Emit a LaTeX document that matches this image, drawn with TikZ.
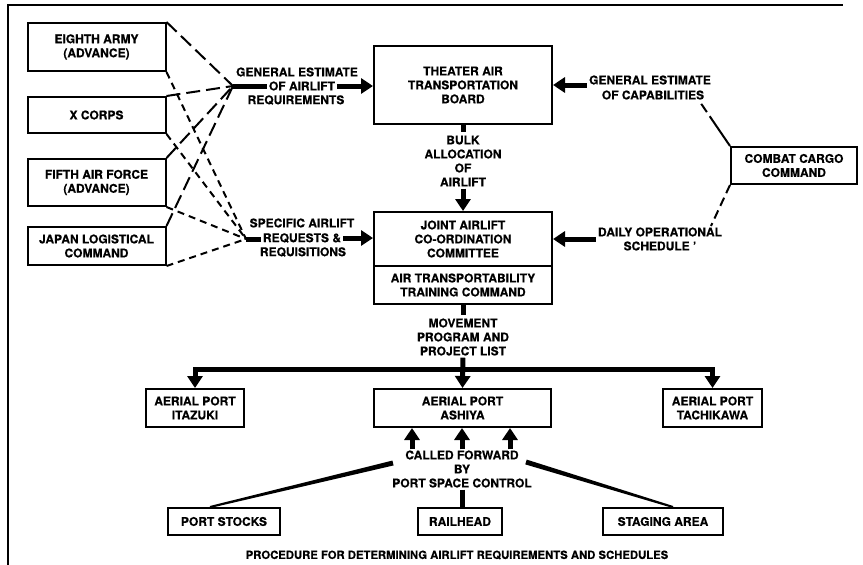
\documentclass[tikz,border=0pt]{standalone}
\usepackage{fontspec}
\setmainfont{TeX Gyre Heros}[BoldFeatures={FakeBold=0.4}]
\usetikzlibrary{arrows.meta,calc}
\newcommand\lblfont{\bfseries\fontsize{12}{14}\selectfont}
\newcommand\capfont{\bfseries\fontsize{11.3}{14}\selectfont}
\begin{document}
\begin{tikzpicture}[x=1pt,y=-1pt,
 box/.style={draw,line width=2pt,inner sep=0pt,align=center,font=\lblfont},
 lbl/.style={align=center,font=\lblfont,inner sep=0pt},
 bar/.style={line width=5pt},
 bigarrow/.style={line width=5pt,-{Triangle[width=15pt,length=12pt]}},
 twoarrow/.style={line width=5pt,{Triangle[width=15pt,length=12pt]}-{Triangle[width=15pt,length=12pt]}},
 longdash/.style={line width=2pt,dash pattern=on 14pt off 6pt},
 shortdash/.style={line width=2pt,dash pattern=on 7pt off 5pt},
]
\useasboundingbox (0,0) rectangle (863,565);
% frame
\coordinate (frTL) at (8,5);
\coordinate (frTR) at (843,5);
\coordinate (frBL) at (8,565);
\draw[line width=2pt] (frBL) -- (frTL) -- (frTR);

% left boxes
\node[box,minimum width=138pt,minimum height=48pt] (eighth) at (96.5,47) {EIGHTH ARMY\\(ADVANCE)};
\node[box,minimum width=138pt,minimum height=36pt] (xcorps) at (96.5,115) {X CORPS};
\node[box,minimum width=138pt,minimum height=47pt] (fifth) at (96.5,182.5) {FIFTH AIR FORCE\\(ADVANCE)};
\node[box,minimum width=138pt,minimum height=38pt] (japan) at (96.5,246) {JAPAN LOGISTICAL\\COMMAND};

% central boxes
\node[box,minimum width=178pt,minimum height=78pt] (tatb) at (463,85) {THEATER AIR\\TRANSPORTATION\\BOARD};
\node[box,minimum width=178pt,minimum height=54pt] (jacc) at (463,239) {JOINT AIRLIFT\\CO-ORDINATION\\COMMITTEE};
\node[box,minimum width=178pt,minimum height=38pt] (attc) at (463,285) {AIR TRANSPORTABILITY\\TRAINING COMMAND};
\node[box,minimum width=126pt,minimum height=37pt] (ccc) at (794,165.5) {COMBAT CARGO\\COMMAND};

% ports
\node[box,minimum width=98pt,minimum height=38pt] (itazuki) at (195,408) {AERIAL PORT\\ITAZUKI};
\node[box,minimum width=177pt,minimum height=38pt] (ashiya) at (462.5,408) {AERIAL PORT\\ASHIYA};
\node[box,minimum width=99pt,minimum height=38pt] (tachikawa) at (712.5,408) {AERIAL PORT\\TACHIKAWA};
\node[box,minimum width=112pt,minimum height=27pt] (portstocks) at (224,521.5) {PORT STOCKS};
\node[box,minimum width=84pt,minimum height=27pt] (railhead) at (460,521.5) {RAILHEAD};
\node[box,minimum width=120pt,minimum height=27pt] (staging) at (663,521.5) {STAGING AREA};

% labels
\node[lbl] (gen1) at (297,72) {GENERAL ESTIMATE};
\node[lbl] (gen2) at (302,86) {OF AIRLIFT};
\node[lbl] (gen3) at (296,100) {REQUIREMENTS};
\node[lbl] (spec1) at (302,223) {SPECIFIC AIRLIFT};
\node[lbl] (spec2) at (302,238) {REQUESTS \&};
\node[lbl] (spec3) at (303,252) {REQUISITIONS};
\node[lbl] (bulk) at (463,161) {BULK\\ALLOCATION\\OF\\AIRLIFT};
\node[lbl] (cap1) at (650,80) {GENERAL ESTIMATE};
\node[lbl] (cap2) at (653,95) {OF CAPABILITIES};
\node[lbl] (daily1) at (660,232) {DAILY OPERATIONAL};
\node[lbl] (daily2) at (660,246) {SCHEDULE '};
\node[lbl] (movement) at (463,337) {MOVEMENT\\PROGRAM AND\\PROJECT LIST};
\node[lbl] (called) at (462,469) {CALLED FORWARD\\BY\\PORT SPACE CONTROL};
\node[lbl,font=\capfont] (caption) at (457,555) {PROCEDURE FOR DETERMINING AIRLIFT REQUIREMENTS AND SCHEDULES};

% junctions
\coordinate (G) at (233,86);
\coordinate (S) at (246,239);

% lines to general estimate
\draw[longdash] (eighth.north east) -- (G);
\draw[longdash] (xcorps.north east) -- (G);
\draw[longdash] (fifth.north east) -- (G);
\draw[longdash] (japan.north east) -- (G);
% lines to specific requests
\draw[shortdash] (eighth.south east) -- (S);
\draw[shortdash] (xcorps.south east) -- (S);
\draw[shortdash] (fifth.south east) -- (S);
\draw[shortdash] (japan.south east) -- (S);

\draw[bar,shorten >=2pt] (G) -- (gen2.west);
\draw[bigarrow,shorten <=2pt] (gen2.east) -- (tatb.west |- gen2.east);
\draw[bar,shorten >=2pt] (S) -- (spec2.west |- S);
\draw[bigarrow,shorten <=2pt] (spec2.east) -- (jacc.west |- spec2.east);

% right side
\draw[bigarrow,shorten <=2pt] (cap1.west |- tatb.east) -- (tatb.east);
\draw[bigarrow,shorten <=2pt] (daily1.west |- jacc.east) -- (jacc.east);
\coordinate (capE) at (700,102);
\coordinate (dailyE) at (711,226);
\draw[line width=2pt,dash pattern=on 36pt off 5pt on 10pt off 5pt] (ccc.north west) -- (capE);
\draw[line width=2pt,dash pattern=on 9pt off 5pt] (ccc.south west) -- (dailyE);

% centre column
\draw[bar,shorten >=3pt] (tatb.south) -- (bulk.north);
\draw[bigarrow,shorten <=2pt] (bulk.south) -- (jacc.north);
\draw[bar,shorten >=3pt] (attc.south) -- (movement.north);
\coordinate (barY) at (463,369);
\draw[twoarrow] (itazuki.north) |- (tachikawa.north |- barY) -- (tachikawa.north);
\draw[bigarrow,shorten <=2pt] (movement.south) -- (ashiya.north);

% called forward
\foreach \dx in {-50,0,48}
  \draw[bigarrow,shorten <=1pt] ([xshift=\dx pt]called.north) -- ([xshift=\dx pt]called.north |- ashiya.south);
\draw[bar,shorten <=2pt] (called.south) -- (called.south |- railhead.north);
\coordinate (psA) at (393,463);
\coordinate (psB) at ([xshift=-14pt]portstocks.north);
\fill ($(psA)!2.5pt!90:(psB)$) -- ($(psA)!2.5pt!-90:(psB)$) -- ($(psB)!1pt!90:(psA)$) -- ($(psB)!1pt!-90:(psA)$) -- cycle;
\coordinate (stA) at (526,462);
\coordinate (stB) at ([xshift=10pt]staging.north);
\fill ($(stA)!2.5pt!90:(stB)$) -- ($(stA)!2.5pt!-90:(stB)$) -- ($(stB)!1pt!90:(stA)$) -- ($(stB)!1pt!-90:(stA)$) -- cycle;
\end{tikzpicture}
\end{document}
